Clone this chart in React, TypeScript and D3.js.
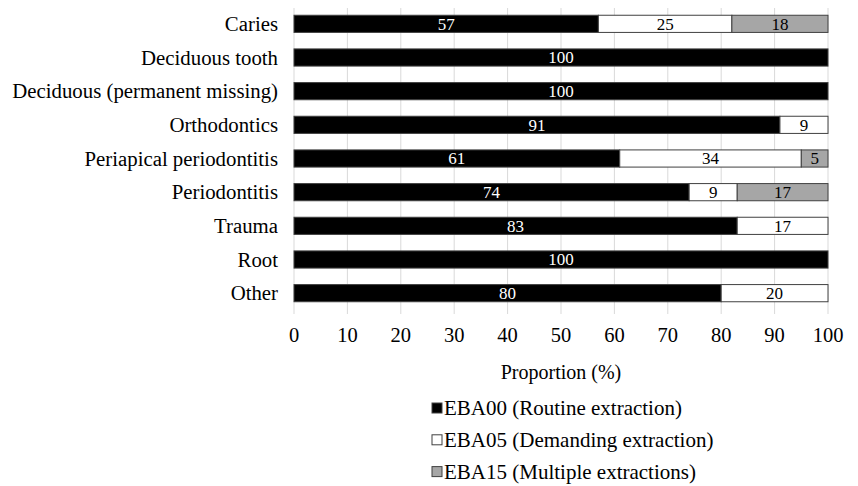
import React from "react";
import * as d3 from "d3";

const categories = [
  "Caries",
  "Deciduous tooth",
  "Deciduous (permanent missing)",
  "Orthodontics",
  "Periapical periodontitis",
  "Periodontitis",
  "Trauma",
  "Root",
  "Other",
];
const eba00 = [57, 100, 100, 91, 61, 74, 83, 100, 80];
const eba05 = [25, 0, 0, 9, 34, 9, 17, 0, 20];
const eba15 = [18, 0, 0, 0, 5, 17, 0, 0, 0];
const seriesNames = [
  "EBA00 (Routine extraction)",
  "EBA05 (Demanding extraction)",
  "EBA15 (Multiple extractions)",
];
const seriesColors = ["#000000", "#ffffff", "#a6a6a6"];
const labelColors = ["#ffffff", "#000000", "#000000"];
const xTicks = [0, 10, 20, 30, 40, 50, 60, 70, 80, 90, 100];

const FONT = "Liberation Serif, DejaVu Serif, serif";

export default function App() {
  const W = 858, H = 486;
  const x = d3.scaleLinear().domain([0, 100]).range([294, 828]);
  const y = d3.scaleBand().domain(categories).range([7, 310]).paddingInner(0.49).paddingOuter(0.245);
  const seriesData = [eba00, eba05, eba15];
  const rows = categories.map((c, i) => ({ cat: c, v: seriesData.map((s) => s[i]) }));
  const stack = d3.stack<any>().keys(["0", "1", "2"]).value((d, k) => d.v[+k]);
  const stacked = stack(rows);
  const bh = y.bandwidth();
  return (
    <svg width={W} height={H} style={{ position: "absolute", left: 0, top: 0, background: "#fff", fontFamily: FONT }}>
      <rect width={W} height={H} fill="#fff" />
      {xTicks.map((t) => (
        <line key={t} x1={x(t)} x2={x(t)} y1={8} y2={314} stroke="#d9d9d9" strokeWidth={1} />
      ))}
      {stacked.map((layer, si) => (
        <g key={si}>
          {layer.map((d, i) => {
            const val = seriesData[si][i];
            if (!val) return null;
            const x0 = x(d[0]), x1 = x(d[1]);
            const yy = y(categories[i])!;
            return (
              <g key={i}>
                <rect x={x0} y={yy} width={x1 - x0} height={bh} fill={seriesColors[si]} stroke="#404040" strokeWidth={1} />
                <text x={(x0 + x1) / 2} y={yy + bh / 2} dy="0.35em" textAnchor="middle" style={{ fontFamily: FONT }} fontSize={17} fill={labelColors[si]}>
                  {val}
                </text>
              </g>
            );
          })}
        </g>
      ))}
      {categories.map((c) => (
        <text key={c} x={278} y={y(c)! + bh / 2} dy="0.35em" textAnchor="end" style={{ fontFamily: FONT }} fontSize={20.8} fill="#000">
          {c}
        </text>
      ))}
      {xTicks.map((t) => (
        <text key={t} x={x(t)} y={335} dy="0.35em" textAnchor="middle" style={{ fontFamily: FONT }} fontSize={20.5} fill="#000">
          {t}
        </text>
      ))}
      <text x={x(50)} y={372} dy="0.35em" textAnchor="middle" style={{ fontFamily: FONT }} fontSize={20} fill="#000">
        Proportion (%)
      </text>
      {seriesNames.map((n, i) => (
        <g key={n} transform={`translate(432, ${408 + i * 31.8})`}>
          <rect x={0} y={-5} width={10} height={10} fill={seriesColors[i]} stroke="#404040" strokeWidth={1} />
          <text x={12} y={0} dy="0.35em" style={{ fontFamily: FONT }} fontSize={21} fill="#000">
            {n}
          </text>
        </g>
      ))}
    </svg>
  );
}
